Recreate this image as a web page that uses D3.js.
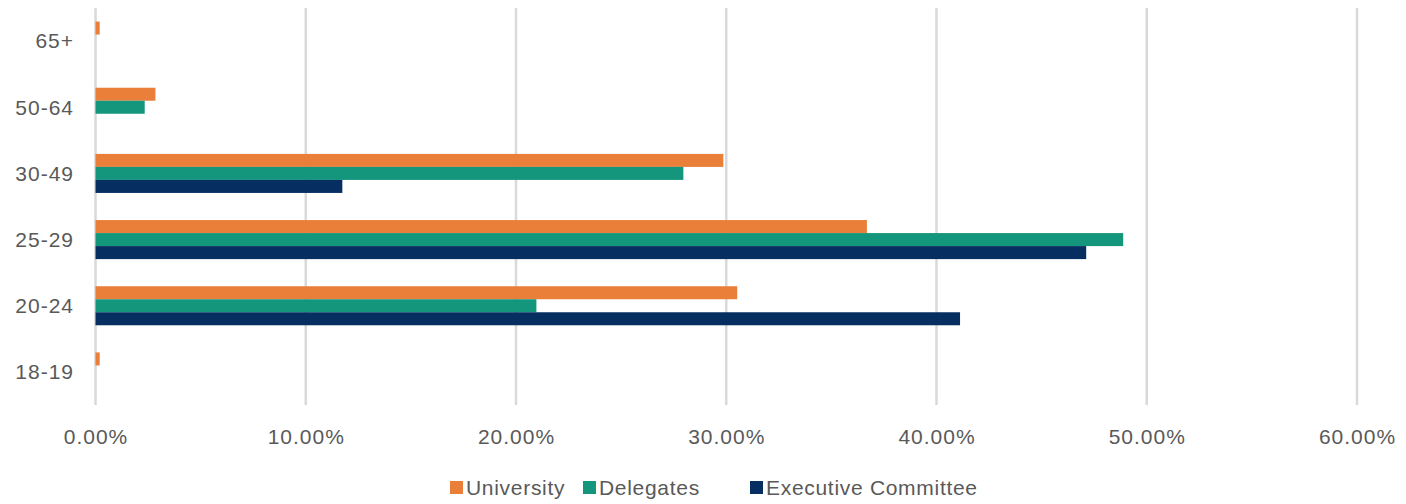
<!DOCTYPE html>
<html><head><meta charset="utf-8">
<script src="https://cdn.jsdelivr.net/npm/d3@7"></script>
<style>body{margin:0;background:#fff}svg{display:block}text{font-family:"Liberation Sans",Arial,sans-serif;fill:#595959;letter-spacing:1px}</style>
</head><body><svg id="c" width="1406" height="504"></svg>
<script>
const categories = ["65+","50-64","30-49","25-29","20-24","18-19"];
const seriesNames = ["University","Delegates","Executive Committee"];
const university = [0.002, 0.0285, 0.2986, 0.3669, 0.3052, 0.002];
const delegates = [0, 0.0234, 0.2796, 0.4888, 0.2097, 0];
const executive = [0, 0, 0.1174, 0.4712, 0.4112, 0];
const xTicks = [0,0.1,0.2,0.3,0.4,0.5,0.6];
const colors = ["#E97F39","#14967C","#062E60"];

const series = [university, delegates, executive];
const svg = d3.select("#c");
const x = d3.scaleLinear().domain([0,0.6]).range([95.5,1357]);
const y = d3.scaleBand().domain(categories).range([8,405]).paddingInner(0.41).paddingOuter(0.205);
const sub = d3.scaleBand().domain(seriesNames).range([0,y.bandwidth()]);

// gridlines
svg.append("g").selectAll("line").data(xTicks).join("line")
  .attr("x1",d=>x(d)).attr("x2",d=>x(d)).attr("y1",8).attr("y2",405)
  .attr("stroke","#d9d9d9").attr("stroke-width",2.5);

// bars
categories.forEach((c,i)=>{
  seriesNames.forEach((s,j)=>{
    const v = series[j][i];
    if(v<=0) return;
    svg.append("rect").attr("x",x(0)).attr("y",y(c)+sub(s))
      .attr("width",x(v)-x(0)).attr("height",sub.bandwidth())
      .attr("fill",colors[j]);
  });
});

// y labels
svg.append("g").selectAll("text").data(categories).join("text")
  .attr("x",74).attr("y",d=>y(d)+y.bandwidth()/2).attr("dy","0.35em")
  .attr("text-anchor","end").attr("font-size",21).text(d=>d);

// x labels
const fmt = d3.format(".2%");
svg.append("g").selectAll("text").data(xTicks).join("text")
  .attr("x",d=>x(d)+0.5).attr("y",437).attr("dy","0.35em")
  .attr("text-anchor","middle").attr("font-size",21).text(d=>fmt(d));

// legend
const legX = [450, 583, 750];
const lg = svg.append("g");
seriesNames.forEach((s,j)=>{
  lg.append("rect").attr("x",legX[j]).attr("y",481).attr("width",13).attr("height",13).attr("fill",colors[j]);
  lg.append("text").attr("x",legX[j]+16).attr("y",488).attr("dy","0.35em").attr("font-size",21)
    .style("letter-spacing","0.7px").text(s);
});
</script></body></html>
